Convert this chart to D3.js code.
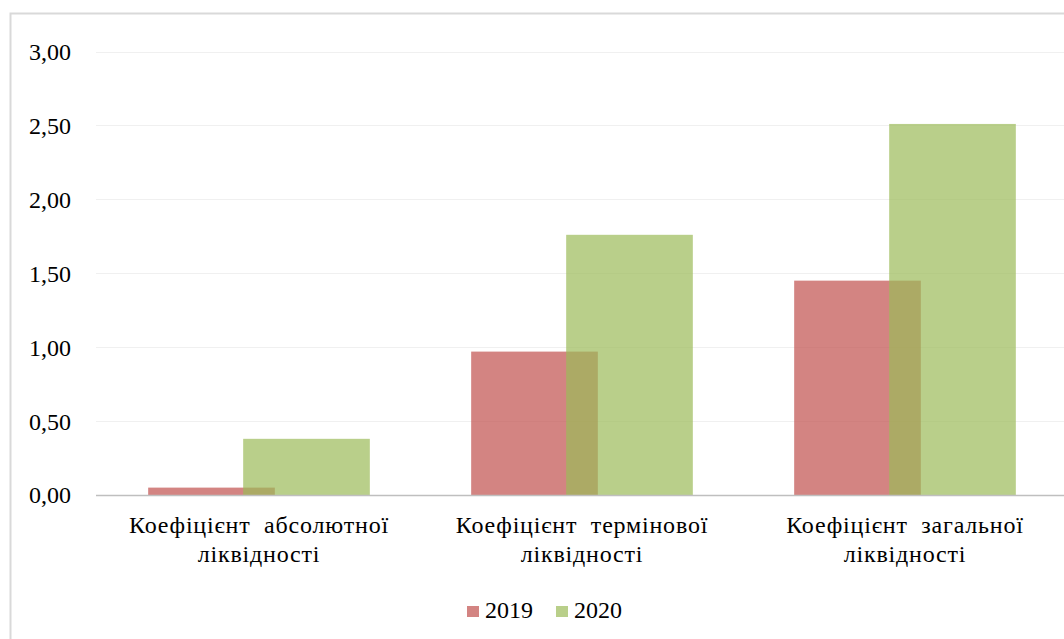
<!DOCTYPE html>
<html>
<head>
<meta charset="utf-8">
<script src="https://cdn.jsdelivr.net/npm/d3@7"></script>
<style>
  html, body { margin: 0; padding: 0; background: #fff; }
  svg { display: block; }
  svg text { font-family: "Liberation Serif", "Times New Roman", Times, "DejaVu Serif", serif; fill: #000; }
</style>
</head>
<body>
<svg id="chart" width="1064" height="639"></svg>
<script>
// Liquidity ratios, 2019 vs 2020
const categories = [
  ["Коефіцієнт  абсолютної", "ліквідності"],
  ["Коефіцієнт  термінової", "ліквідності"],
  ["Коефіцієнт  загальної", "ліквідності"]
];
const seriesNames = ["2019", "2020"];
const values2019 = [0.05, 0.97, 1.45];
const values2020 = [0.38, 1.76, 2.51];
const yTicks = [0, 0.5, 1, 1.5, 2, 2.5, 3];
const colors = ["#c0504d", "#9bbb59"];

const FONT = '"Liberation Serif", "Times New Roman", Times, "DejaVu Serif", serif';
const FS = 24;

const svg = d3.select("#chart");
const W = 1064, H = 639;

// outer frame
svg.append("rect")
  .attr("x", 10.5).attr("y", 13.5)
  .attr("width", W + 20).attr("height", H + 20)
  .attr("fill", "#fff").attr("stroke", "#d9d9d9").attr("stroke-width", 2);

const plot = { left: 96, top: 51.5, bottom: 495 };

const y = d3.scaleLinear().domain([0, 3]).range([plot.bottom, plot.top]);
const keys = categories.map((c, i) => i);
const x = d3.scaleBand().domain(keys).range([97.5, 1066.5])
  .paddingInner(0.8 / 2.55).paddingOuter(0.4 / 2.55);

const barW = x.bandwidth() / 1.75;   // 25% overlap between the two series

// gridlines
svg.append("g").selectAll("line")
  .data(yTicks.filter(t => t > 0))
  .join("line")
  .attr("x1", plot.left).attr("x2", W)
  .attr("y1", d => Math.round(y(d)) + 0.5).attr("y2", d => Math.round(y(d)) + 0.5)
  .attr("stroke", "#f0f0f0").attr("stroke-width", 1.2);

// y tick labels
const yAxis = d3.axisLeft(y).tickValues(yTicks)
  .tickFormat(d => d3.format(".2f")(d).replace(".", ","))
  .tickSize(0).tickPadding(0);
const ya = svg.append("g").attr("transform", "translate(71,0)").call(yAxis)
  .attr("font-family", FONT).attr("font-size", FS);
ya.select(".domain").remove();
ya.selectAll("text")
  .style("font-family", FONT)
  .style("font-size", FS + "px")
  .attr("dy", "0.33em");

// bars
const series = [values2019, values2020];
series.forEach((vals, s) => {
  svg.append("g").selectAll("rect")
    .data(vals.map((v, i) => ({ v, i })))
    .join("rect")
    .attr("x", d => x(d.i) + s * 0.75 * barW)
    .attr("width", barW)
    .attr("y", d => y(d.v))
    .attr("height", d => y(0) - y(d.v))
    .attr("fill", colors[s])
    .attr("fill-opacity", 0.7);
});

// baseline
svg.append("line")
  .attr("x1", plot.left).attr("x2", W)
  .attr("y1", y(0) + 0.5).attr("y2", y(0) + 0.5)
  .attr("stroke", "#bfbfbf").attr("stroke-width", 1.5);

// category labels
const xl = svg.append("g");
categories.forEach((lines, i) => {
  const cx = x(i) + x.bandwidth() / 2;
  const t = xl.append("text")
    .attr("text-anchor", "middle")
    .style("font-family", FONT)
    .style("font-size", FS + "px")
    .style("letter-spacing", "0.8px")
    .style("white-space", "pre");
  lines.forEach((ln, j) => {
    t.append("tspan").attr("x", cx).attr("y", 533 + j * 29).text(ln);
  });
});

// legend
const legend = svg.append("g");
const legendX = [467, 556];
seriesNames.forEach((name, s) => {
  legend.append("rect")
    .attr("x", legendX[s]).attr("y", 606)
    .attr("width", 12).attr("height", 11)
    .attr("fill", colors[s]).attr("fill-opacity", 0.7);
  legend.append("text")
    .attr("x", legendX[s] + 18).attr("y", 618)
    .style("font-family", FONT)
    .style("font-size", FS + "px")
    .text(name);
});
</script>
</body>
</html>
